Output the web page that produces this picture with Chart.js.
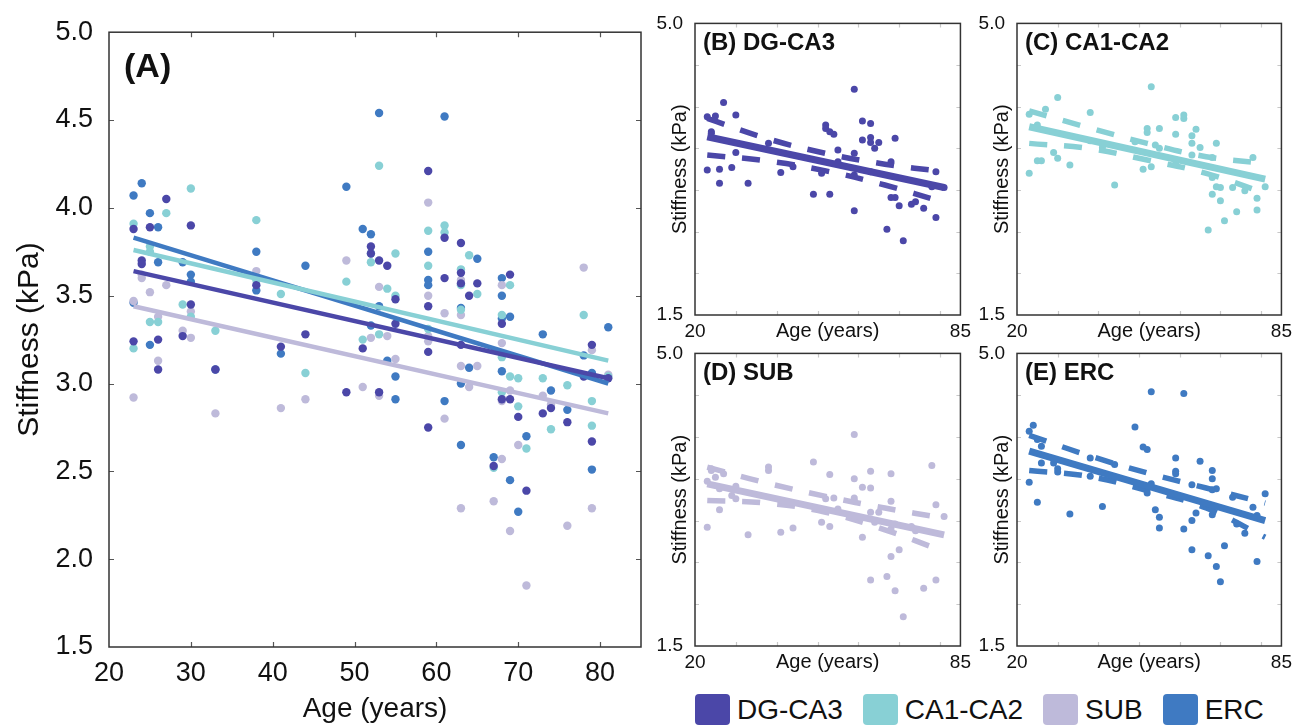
<!DOCTYPE html>
<html>
<head>
<meta charset="utf-8">
<script src="https://cdn.jsdelivr.net/npm/chart.js@4.4.1/dist/chart.umd.min.js"></script>
<style>
  body { margin: 0; background: #fff; width: 1299px; height: 726px; overflow: hidden; position: relative;
         font-family: "Liberation Sans", Arial, sans-serif; }
  canvas { position: absolute; }
  #legend { position: absolute; left: 695px; top: 694px; height: 31px; display: flex; align-items: center;
            font-size: 28px; color: #111; white-space: nowrap; }
  #legend .sw { display: inline-block; width: 35px; height: 31px; border-radius: 4px; margin-right: 7px; }
  #legend .item { display: flex; align-items: center; margin-right: 20px; }
</style>
</head>
<body>
<canvas id="main" width="655" height="726" style="left:0;top:0"></canvas>
<canvas id="panelB" width="331" height="345" style="left:645px;top:0"></canvas>
<canvas id="panelC" width="330" height="345" style="left:967px;top:0"></canvas>
<canvas id="panelD" width="331" height="346" style="left:645px;top:330px"></canvas>
<canvas id="panelE" width="330" height="346" style="left:967px;top:330px"></canvas>
<div id="legend"></div>
<script>
Chart.defaults.font.family = '"Liberation Sans", Arial, sans-serif';
Chart.defaults.color = '#111';
Chart.defaults.animation = false;

// regions and their colours
const regions = ['DG-CA3', 'CA1-CA2', 'SUB', 'ERC'];
const colors = ['#4b47a8', '#88d0d5', '#bebada', '#3f7ac2'];

// age (years) and stiffness (kPa) of each subject
const dgAges  = [23, 25, 27, 30, 24, 24, 23, 26, 26, 29, 30, 33, 38, 41, 44, 49, 51, 52, 52, 53, 54, 53, 55, 55, 59, 59, 59, 59, 61, 63, 61, 63, 63, 64, 65, 63, 67, 68, 69, 68, 69, 70, 71, 73, 74, 76, 78, 79, 79, 81];
const dgStiff = [3.88, 3.89, 4.05, 3.90, 3.70, 3.68, 3.24, 3.25, 3.08, 3.27, 3.45, 3.08, 3.56, 3.21, 3.28, 2.95, 3.20, 3.78, 3.74, 3.70, 3.67, 2.95, 3.48, 3.34, 4.21, 3.44, 3.18, 2.75, 3.83, 3.80, 3.60, 3.63, 3.57, 3.50, 3.57, 3.22, 2.53, 3.34, 3.62, 2.91, 2.91, 2.81, 2.39, 2.83, 2.86, 2.78, 3.04, 2.67, 3.22, 3.03];

const caAges  = [23, 25, 25, 27, 30, 23, 25, 26, 29, 30, 33, 38, 38, 41, 44, 49, 51, 52, 52, 53, 53, 54, 55, 55, 59, 59, 59, 61, 61, 63, 63, 63, 64, 65, 68, 69, 68, 69, 70, 68, 70, 67, 71, 73, 74, 76, 78, 79, 79, 81];
const caStiff = [3.91, 3.78, 3.75, 3.97, 4.11, 3.20, 3.35, 3.35, 3.45, 3.38, 3.30, 3.93, 3.59, 3.51, 3.06, 3.58, 3.25, 3.74, 3.69, 4.24, 3.28, 3.54, 3.50, 3.74, 3.87, 3.67, 3.31, 3.90, 3.86, 3.65, 3.56, 3.42, 3.73, 3.51, 3.39, 3.56, 3.15, 3.04, 3.03, 2.95, 2.87, 2.52, 2.63, 3.03, 2.74, 2.99, 3.39, 2.90, 2.76, 3.04];

const subAges  = [23, 23, 24, 24, 25, 26, 26, 27, 29, 30, 30, 33, 38, 38, 41, 44, 49, 51, 52, 54, 53, 53, 55, 59, 59, 59, 59, 61, 61, 63, 63, 63, 63, 65, 64, 67, 68, 68, 68, 68, 69, 70, 69, 71, 73, 74, 76, 78, 79, 79, 81];
const subStiff = [3.47, 2.92, 3.62, 3.60, 3.52, 3.38, 3.13, 3.56, 3.30, 3.41, 3.26, 2.83, 3.64, 3.60, 2.86, 2.91, 3.70, 2.98, 3.26, 3.27, 3.55, 2.93, 3.14, 4.03, 3.50, 3.27, 3.24, 3.40, 2.80, 3.59, 3.39, 3.10, 2.29, 3.10, 2.98, 2.33, 3.56, 3.23, 2.90, 2.57, 2.96, 2.65, 2.16, 1.85, 2.93, 2.88, 2.19, 3.66, 3.19, 2.29, 3.05];

const ercAges  = [23, 24, 25, 26, 26, 23, 25, 29, 30, 30, 33, 38, 38, 41, 44, 49, 51, 52, 53, 52, 53, 54, 55, 55, 59, 59, 59, 61, 61, 63, 63, 63, 64, 65, 67, 68, 68, 68, 69, 68, 69, 70, 71, 73, 74, 76, 78, 79, 79, 81];
const ercStiff = [4.07, 4.14, 3.97, 3.89, 3.69, 3.46, 3.22, 3.69, 3.62, 3.58, 3.08, 3.75, 3.53, 3.17, 3.67, 4.12, 3.88, 3.85, 4.54, 3.33, 3.44, 3.13, 3.04, 2.91, 3.75, 3.59, 3.56, 4.52, 2.90, 3.43, 3.00, 2.65, 3.09, 3.71, 2.58, 3.60, 3.50, 3.37, 3.38, 3.07, 2.45, 2.27, 2.70, 3.28, 2.96, 2.85, 3.16, 3.06, 2.51, 3.32];

// linear fits, value at youngest and oldest age
const fitAges = [23, 81];
const dgFit  = [3.64, 3.03];
const caFit  = [3.76, 3.13];
const subFit = [3.44, 2.83];
const ercFit = [3.83, 3.00];

// confidence band (dashed lines in B-E)
const ciAges = [23, 37.5, 52, 66.5, 81];
const dgUpper  = [3.86, 3.62, 3.44, 3.31, 3.22];
const dgLower  = [3.42, 3.35, 3.23, 3.06, 2.85];
const caUpper  = [3.95, 3.75, 3.56, 3.40, 3.32];
const caLower  = [3.56, 3.50, 3.36, 3.20, 2.96];
const subUpper = [3.64, 3.45, 3.29, 3.15, 3.03];
const subLower = [3.24, 3.21, 3.10, 2.89, 2.63];
const ercUpper = [4.02, 3.78, 3.57, 3.39, 3.21];
const ercLower = [3.60, 3.53, 3.36, 3.15, 2.80];

// tick values
const mainXTicks = [20, 30, 40, 50, 60, 70, 80];
const innerXTicks = [30, 40, 50, 60, 70, 80];
const innerYTicks = [2.0, 2.5, 3.0, 3.5, 4.0, 4.5];
const panelXLabels = [20, 85];
const panelYLabels = [1.5, 5.0];

const toPoints = (xs, ys) => xs.map((x, i) => ({ x: x, y: ys[i] }));

// box around plot area, small inward ticks and the panel letter
const frameTicks = {
  id: 'frameTicks',
  beforeDatasetsDraw(chart, args, opts) {
    const { ctx, chartArea: a, scales: { x, y } } = chart;
    ctx.save();
    ctx.strokeStyle = opts.tickColor;
    ctx.lineWidth = 1.2;
    ctx.beginPath();
    innerXTicks.forEach(v => {
      const px = Math.round(x.getPixelForValue(v)) + 0.5;
      ctx.moveTo(px, a.bottom); ctx.lineTo(px, a.bottom - opts.len);
      ctx.moveTo(px, a.top); ctx.lineTo(px, a.top + opts.len);
    });
    innerYTicks.forEach(v => {
      const py = Math.round(y.getPixelForValue(v)) + 0.5;
      ctx.moveTo(a.left, py); ctx.lineTo(a.left + opts.len, py);
      ctx.moveTo(a.right, py); ctx.lineTo(a.right - opts.len, py);
    });
    ctx.stroke();
    ctx.restore();
  },
  afterDraw(chart, args, opts) {
    const { ctx, chartArea: a } = chart;
    ctx.save();
    ctx.strokeStyle = '#333';
    ctx.lineWidth = 1.5;
    ctx.strokeRect(a.left, a.top, a.right - a.left, a.bottom - a.top);
    ctx.fillStyle = '#111';
    ctx.font = opts.font;
    ctx.textBaseline = 'middle';
    ctx.fillText(opts.label, a.left + opts.dx, a.top + opts.dy);
    ctx.restore();
  }
};

// (A) all four regions together
const mainSets = [
  [dgAges, dgStiff, dgFit], [caAges, caStiff, caFit], [subAges, subStiff, subFit], [ercAges, ercStiff, ercFit]
];
const mainDatasets = [];
mainSets.forEach((s, i) => {
  mainDatasets.push({
    label: regions[i] + ' fit', data: toPoints(fitAges, s[2]), showLine: true,
    borderColor: colors[i], borderWidth: 4.5, pointRadius: 0
  });
});
mainSets.forEach((s, i) => {
  mainDatasets.push({
    label: regions[i], data: toPoints(s[0], s[1]),
    backgroundColor: colors[i], borderWidth: 0, pointRadius: 4.2
  });
});

new Chart(document.getElementById('main'), {
  type: 'scatter',
  data: { datasets: mainDatasets },
  plugins: [frameTicks],
  options: {
    responsive: false,
    layout: { padding: { top: 21, right: 14, left: 0, bottom: 0 } },
    plugins: {
      legend: { display: false }, tooltip: { enabled: false },
      frameTicks: { tickColor: '#555', len: 5, label: '(A)', font: 'bold 34px "Liberation Sans", Arial, sans-serif', dx: 15, dy: 35 }
    },
    scales: {
      x: {
        min: 20, max: 85,
        afterBuildTicks: s => { s.ticks = mainXTicks.map(v => ({ value: v })); },
        afterFit: s => { s.height = 79; },
        grid: { display: false, drawTicks: false }, border: { display: false },
        ticks: { font: { size: 27 }, padding: 10, maxRotation: 0 },
        title: { display: true, text: 'Age (years)', font: { size: 28 }, padding: { top: 0, bottom: 0 } }
      },
      y: {
        min: 1.5, max: 5.0,
        ticks: { stepSize: 0.5, font: { size: 27 }, padding: 16, callback: v => v.toFixed(1) },
        afterFit: s => { s.width = 109; },
        grid: { display: false, drawTicks: false }, border: { display: false },
        title: { display: true, text: 'Stiffness (kPa)', font: { size: 30 }, padding: { top: 12, bottom: 0 } }
      }
    }
  }
});

// (B)-(E) one region per panel, with fit and confidence band
function makePanel(id, label, color, ages, stiff, fit, upper, lower, padTop) {
  new Chart(document.getElementById(id), {
    type: 'scatter',
    data: {
      datasets: [
        { data: toPoints(fitAges, fit), showLine: true, borderColor: color, borderWidth: 7, pointRadius: 0 },
        { data: toPoints(ciAges, upper), showLine: true, borderColor: color, borderWidth: 5.5, borderDash: [18, 17], pointRadius: 0, tension: 0.4 },
        { data: toPoints(ciAges, lower), showLine: true, borderColor: color, borderWidth: 5.5, borderDash: [18, 17], pointRadius: 0, tension: 0.4 },
        { data: toPoints(ages, stiff), backgroundColor: color, borderWidth: 0, pointRadius: 3.5 }
      ]
    },
    plugins: [frameTicks],
    options: {
      responsive: false,
      layout: { padding: { top: padTop, right: 14, left: 0, bottom: 0 } },
      plugins: {
        legend: { display: false }, tooltip: { enabled: false },
        frameTicks: { tickColor: '#c8c8c8', len: 4, label: label, font: 'bold 24px "Liberation Sans", Arial, sans-serif', dx: 8, dy: 20 }
      },
      scales: {
        x: {
          min: 20, max: 85,
          afterBuildTicks: s => { s.ticks = panelXLabels.map(v => ({ value: v })); },
          afterFit: s => { s.height = 30; },
          grid: { display: false, drawTicks: false }, border: { display: false },
          ticks: { font: { size: 19 }, padding: 5, maxRotation: 0 },
          title: { display: true, text: 'Age (years)', font: { size: 20 }, padding: { top: 0, bottom: 2 } }
        },
        y: {
          min: 1.5, max: 5.0,
          afterBuildTicks: s => { s.ticks = panelYLabels.map(v => ({ value: v })); },
          afterFit: s => { s.width = 50; },
          grid: { display: false, drawTicks: false }, border: { display: false },
          ticks: { font: { size: 19 }, padding: 12, callback: v => v.toFixed(1) },
          title: { display: true, text: 'Stiffness (kPa)', font: { size: 20 }, padding: { top: 23, bottom: 0 } }
        }
      }
    }
  });
}

makePanel('panelB', '(B) DG-CA3', colors[0], dgAges, dgStiff, dgFit, dgUpper, dgLower, 23);
makePanel('panelC', '(C) CA1-CA2', colors[1], caAges, caStiff, caFit, caUpper, caLower, 22);
makePanel('panelD', '(D) SUB', colors[2], subAges, subStiff, subFit, subUpper, subLower, 23);
makePanel('panelE', '(E) ERC', colors[3], ercAges, ercStiff, ercFit, ercUpper, ercLower, 23);

// legend along the bottom right
const legend = document.getElementById('legend');
regions.forEach((r, i) => {
  const item = document.createElement('div');
  item.className = 'item';
  item.innerHTML = '<span class="sw" style="background:' + colors[i] + '"></span>' + r;
  legend.appendChild(item);
});
</script>
</body>
</html>
